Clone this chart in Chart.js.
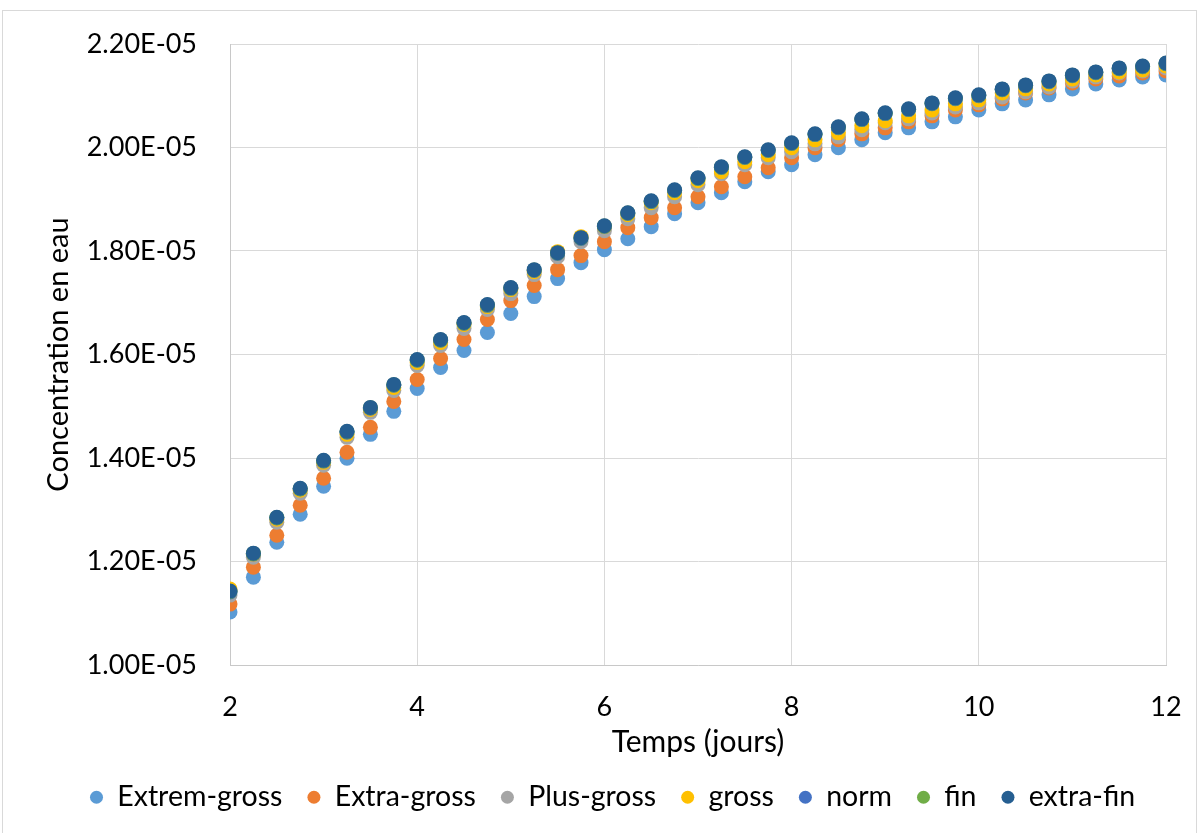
<!DOCTYPE html>
<html lang="fr">
<head>
<meta charset="utf-8">
<title>Concentration en eau</title>
<script src="https://cdn.jsdelivr.net/npm/chart.js@4.4.1/dist/chart.umd.min.js"></script>
<style>
  html, body { margin: 0; padding: 0; background: #fff; overflow: hidden; }
  #cadre { position: absolute; left: 2px; top: 10px; width: 1193px; height: 840px; border: 1px solid #d9d9d9; }
  #scatterChart { position: absolute; left: 0; top: 0; }
</style>
</head>
<body>
<div id="cadre"></div>
<canvas id="scatterChart" width="1201" height="833"></canvas>
<script>
// Temps (jours)
const temps = [2, 2.25, 2.5, 2.75, 3, 3.25, 3.5, 3.75, 4, 4.25, 4.5, 4.75, 5, 5.25, 5.5, 5.75, 6, 6.25, 6.5, 6.75,
    7, 7.25, 7.5, 7.75, 8, 8.25, 8.5, 8.75, 9, 9.25, 9.5, 9.75, 10, 10.25, 10.5, 10.75, 11, 11.25, 11.5, 11.75, 12];

// Concentrations
const extremGross = [1.1023e-5, 1.1698e-5, 1.2373e-5, 1.2913e-5, 1.3454e-5, 1.3994e-5, 1.4457e-5, 1.4901e-5, 1.5344e-5, 1.5750e-5,
    1.6078e-5, 1.6425e-5, 1.6791e-5, 1.7119e-5, 1.7467e-5, 1.7775e-5, 1.8026e-5, 1.8238e-5, 1.8470e-5, 1.8721e-5,
    1.8933e-5, 1.9126e-5, 1.9338e-5, 1.9531e-5, 1.9666e-5, 1.9859e-5, 1.9994e-5, 2.0149e-5, 2.0284e-5, 2.0380e-5,
    2.0496e-5, 2.0592e-5, 2.0727e-5, 2.0843e-5, 2.0920e-5, 2.1017e-5, 2.1132e-5, 2.1229e-5, 2.1306e-5, 2.1364e-5, 2.1403e-5];
const extraGross = [1.1177e-5, 1.1891e-5, 1.2508e-5, 1.3087e-5, 1.3608e-5, 1.4110e-5, 1.4592e-5, 1.5094e-5, 1.5518e-5, 1.5923e-5,
    1.6290e-5, 1.6676e-5, 1.7042e-5, 1.7332e-5, 1.7640e-5, 1.7911e-5, 1.8181e-5, 1.8451e-5, 1.8644e-5, 1.8837e-5,
    1.9049e-5, 1.9242e-5, 1.9435e-5, 1.9608e-5, 1.9801e-5, 1.9994e-5, 2.0149e-5, 2.0264e-5, 2.0380e-5, 2.0496e-5,
    2.0612e-5, 2.0727e-5, 2.0824e-5, 2.0940e-5, 2.1055e-5, 2.1152e-5, 2.1248e-5, 2.1326e-5, 2.1384e-5, 2.1441e-5, 2.1480e-5];
const plusGross = [1.1351e-5, 1.2084e-5, 1.2760e-5, 1.3319e-5, 1.3859e-5, 1.4399e-5, 1.4882e-5, 1.5306e-5, 1.5788e-5, 1.6174e-5,
    1.6502e-5, 1.6869e-5, 1.7177e-5, 1.7544e-5, 1.7891e-5, 1.8181e-5, 1.8393e-5, 1.8624e-5, 1.8835e-5, 1.9048e-5,
    1.9280e-5, 1.9493e-5, 1.9667e-5, 1.9802e-5, 1.9917e-5, 2.0071e-5, 2.0206e-5, 2.0342e-5, 2.0477e-5, 2.0554e-5,
    2.0669e-5, 2.0785e-5, 2.0863e-5, 2.0978e-5, 2.1075e-5, 2.1171e-5, 2.1287e-5, 2.1365e-5, 2.1442e-5, 2.1480e-5, 2.1538e-5];
const gross = [1.1467e-5, 1.2142e-5, 1.2817e-5, 1.3376e-5, 1.3916e-5, 1.4457e-5, 1.4939e-5, 1.5364e-5, 1.5846e-5, 1.6232e-5,
    1.6579e-5, 1.6926e-5, 1.7254e-5, 1.7601e-5, 1.7987e-5, 1.8277e-5, 1.8470e-5, 1.8701e-5, 1.8931e-5, 1.9125e-5,
    1.9357e-5, 1.9532e-5, 1.9725e-5, 1.9860e-5, 1.9995e-5, 2.0148e-5, 2.0283e-5, 2.0419e-5, 2.0516e-5, 2.0612e-5,
    2.0727e-5, 2.0843e-5, 2.0921e-5, 2.1055e-5, 2.1133e-5, 2.1229e-5, 2.1326e-5, 2.1403e-5, 2.1461e-5, 2.1499e-5, 2.1576e-5];
const norm = [1.1413e-5, 1.2146e-5, 1.2841e-5, 1.3400e-5, 1.3940e-5, 1.4500e-5, 1.4963e-5, 1.5407e-5, 1.5889e-5, 1.6275e-5,
    1.6603e-5, 1.6950e-5, 1.7278e-5, 1.7625e-5, 1.7953e-5, 1.8243e-5, 1.8474e-5, 1.8725e-5, 1.8955e-5, 1.9168e-5,
    1.9400e-5, 1.9613e-5, 1.9806e-5, 1.9941e-5, 2.0076e-5, 2.0249e-5, 2.0384e-5, 2.0539e-5, 2.0655e-5, 2.0732e-5,
    2.0847e-5, 2.0944e-5, 2.1002e-5, 2.1117e-5, 2.1195e-5, 2.1272e-5, 2.1388e-5, 2.1446e-5, 2.1523e-5, 2.1561e-5, 2.1619e-5];
const fin = [1.1420e-5, 1.2153e-5, 1.2848e-5, 1.3407e-5, 1.3947e-5, 1.4507e-5, 1.4970e-5, 1.5414e-5, 1.5896e-5, 1.6282e-5,
    1.6610e-5, 1.6957e-5, 1.7285e-5, 1.7632e-5, 1.7960e-5, 1.8250e-5, 1.8481e-5, 1.8732e-5, 1.8962e-5, 1.9175e-5,
    1.9407e-5, 1.9620e-5, 1.9813e-5, 1.9948e-5, 2.0083e-5, 2.0256e-5, 2.0391e-5, 2.0546e-5, 2.0662e-5, 2.0739e-5,
    2.0854e-5, 2.0951e-5, 2.1009e-5, 2.1124e-5, 2.1202e-5, 2.1279e-5, 2.1395e-5, 2.1453e-5, 2.1530e-5, 2.1568e-5, 2.1626e-5];
const extraFin = [1.1428e-5, 1.2161e-5, 1.2856e-5, 1.3415e-5, 1.3955e-5, 1.4515e-5, 1.4978e-5, 1.5422e-5, 1.5904e-5, 1.6290e-5,
    1.6618e-5, 1.6965e-5, 1.7293e-5, 1.7640e-5, 1.7968e-5, 1.8258e-5, 1.8489e-5, 1.8740e-5, 1.8970e-5, 1.9183e-5,
    1.9415e-5, 1.9628e-5, 1.9821e-5, 1.9956e-5, 2.0091e-5, 2.0264e-5, 2.0399e-5, 2.0554e-5, 2.0670e-5, 2.0747e-5,
    2.0862e-5, 2.0959e-5, 2.1017e-5, 2.1132e-5, 2.1210e-5, 2.1287e-5, 2.1403e-5, 2.1461e-5, 2.1538e-5, 2.1576e-5, 2.1634e-5];

const seriesNames = ['Extrem-gross', 'Extra-gross', 'Plus-gross', 'gross', 'norm', 'fin', 'extra-fin'];
const seriesValues = [extremGross, extraGross, plusGross, gross, norm, fin, extraFin];
const seriesColors = ['#5B9BD5', '#ED7D31', '#A5A5A5', '#FFC000', '#4472C4', '#70AD47', '#255E91'];

// Graduations
const xMin = 2, xMax = 12, xStep = 2;
const yMin = 1.0e-5, yMax = 2.2e-5, yStep = 2.0e-6;

const police = "Lato, 'Liberation Sans', sans-serif";

// Format 2.20E-05
function formatSci(value) {
    const parts = Number(value).toExponential(2).split('e');
    const e = parseInt(parts[1], 10);
    return parts[0] + 'E' + (e < 0 ? '-' : '+') + String(Math.abs(e)).padStart(2, '0');
}

const datasets = seriesNames.map((name, i) => ({
    label: name,
    data: temps.map((t, j) => ({ x: t, y: seriesValues[i][j] })),
    backgroundColor: seriesColors[i],
    borderColor: seriesColors[i],
    borderWidth: 0,
    pointRadius: 7.5,
    pointHoverRadius: 7.5,
    // la dernière série est dessinée au-dessus
    order: seriesNames.length - i
}));

const scatterConfig = {
    type: 'scatter',
    data: { datasets: datasets },
    options: {
        responsive: false,
        animation: false,
        layout: {
            autoPadding: false,
            padding: { left: 65, right: 35, top: 44, bottom: 11.5 }
        },
        plugins: {
            tooltip: { enabled: false },
            legend: {
                position: 'bottom',
                align: 'start',
                labels: {
                    usePointStyle: true,
                    pointStyle: 'circle',
                    pointStyleWidth: 13,
                    boxHeight: 9.2,
                    padding: 25,
                    color: '#000',
                    font: { family: police, size: 28.5 },
                    sort: (a, b) => a.datasetIndex - b.datasetIndex
                }
            }
        },
        scales: {
            x: {
                type: 'linear',
                min: xMin,
                max: xMax,
                afterFit: (scale) => { scale.height = 93; },
                ticks: {
                    stepSize: xStep,
                    padding: 10,
                    color: '#000',
                    font: { family: police, size: 27, lineHeight: 2.37 }
                },
                grid: { color: '#d9d9d9', drawTicks: false },
                border: { color: '#c8c8c8' },
                title: {
                    display: true,
                    text: 'Temps (jours)',
                    color: '#000',
                    padding: { top: 0, bottom: -2 },
                    font: { family: police, size: 30 }
                }
            },
            y: {
                type: 'linear',
                min: yMin,
                max: yMax,
                afterFit: (scale) => { scale.width = 165; },
                ticks: {
                    stepSize: yStep,
                    padding: 33,
                    color: '#000',
                    font: { family: police, size: 27, lineHeight: 0.8 },
                    callback: (value) => formatSci(value)
                },
                grid: { color: '#d9d9d9', drawTicks: false },
                border: { color: '#c8c8c8' },
                title: {
                    display: true,
                    text: 'Concentration en eau',
                    color: '#000',
                    padding: { top: -24, bottom: 0 },
                    font: { family: police, size: 29 }
                }
            }
        }
    }
};

const scatterCtx = document.getElementById('scatterChart').getContext('2d');
new Chart(scatterCtx, scatterConfig);
</script>
</body>
</html>
